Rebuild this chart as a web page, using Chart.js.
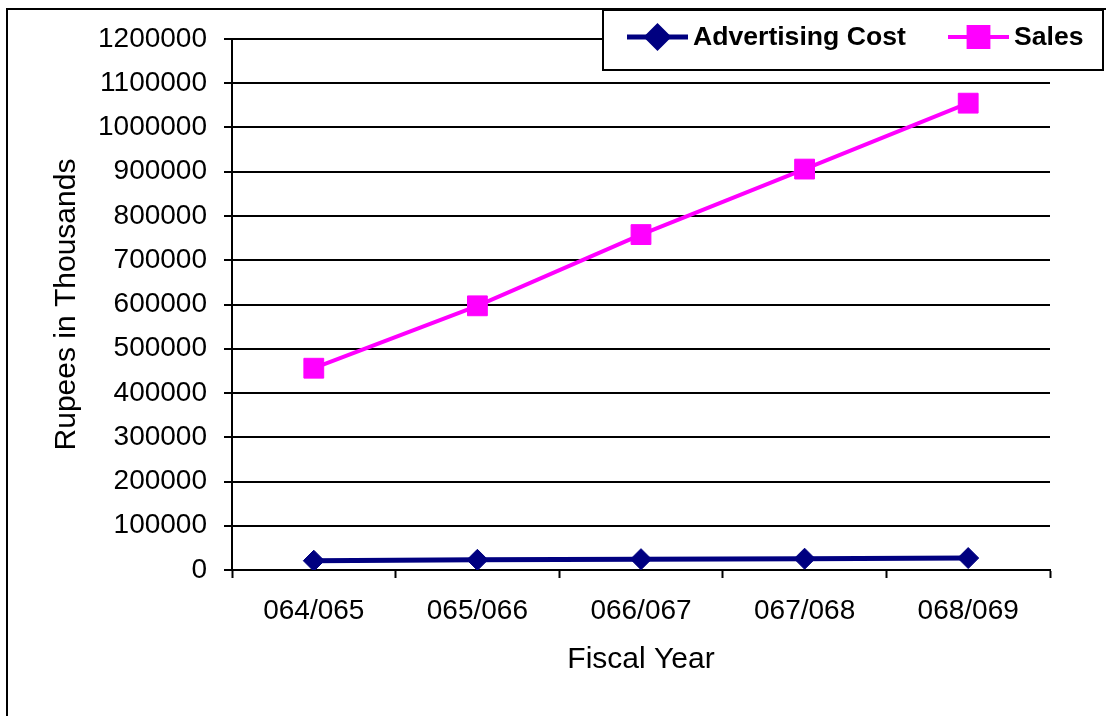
<!DOCTYPE html>
<html>
<head>
<meta charset="utf-8">
<title>Advertising Cost and Sales</title>
<script src="https://cdn.jsdelivr.net/npm/chart.js@4/dist/chart.umd.min.js"></script>
<style>
  html, body { margin: 0; padding: 0; background: #ffffff; }
  #wrap { width: 1106px; height: 716px; position: relative; }
</style>
</head>
<body>
<div id="wrap"><canvas id="chart"></canvas></div>
<script>
// Fiscal years and the two series (Rupees in thousands)
const fiscalYears = ['064/065', '065/066', '066/067', '067/068', '068/069'];
const advertisingCost = [21000, 23000, 24500, 25500, 27000];
const sales = [456000, 597000, 758000, 906000, 1055000];
const seriesNames = ['Advertising Cost', 'Sales'];
const yTickMax = 1200000;
const yTickStep = 100000;

const FONT = 'Arial, "Liberation Sans", Helvetica, sans-serif';

// White frame edge on the left and top of the figure
const framePlugin = {
  id: 'frame',
  beforeDraw(chart) {
    const ctx = chart.ctx;
    ctx.save();
    ctx.fillStyle = '#ffffff';
    ctx.fillRect(0, 0, chart.width, chart.height);
    ctx.strokeStyle = '#000000';
    ctx.lineWidth = 2;
    ctx.strokeRect(7, 9, chart.width + 20, chart.height + 20);
    ctx.restore();
  }
};

// Boxed legend floating at the top right, overlapping the plot
const boxLegendPlugin = {
  id: 'boxLegend',
  afterDraw(chart) {
    const ctx = chart.ctx;
    const right = chart.width - 3;
    const box = { left: right - 500, top: 10, width: 500, height: 60 };
    ctx.save();
    ctx.fillStyle = '#ffffff';
    ctx.fillRect(box.left, box.top, box.width, box.height);
    ctx.strokeStyle = '#000000';
    ctx.lineWidth = 2;
    ctx.strokeRect(box.left, box.top, box.width, box.height);

    const cy = box.top + 27;
    const items = [
      { ds: chart.data.datasets[0], x0: box.left + 24 },
      { ds: chart.data.datasets[1], x0: box.left + 345 }
    ];
    ctx.font = 'bold 26.6px ' + FONT;
    ctx.textBaseline = 'middle';
    ctx.textAlign = 'left';
    items.forEach(({ ds, x0 }) => {
      ctx.strokeStyle = ds.borderColor;
      ctx.lineWidth = ds.borderWidth;
      ctx.beginPath();
      ctx.moveTo(x0, cy);
      ctx.lineTo(x0 + 61, cy);
      ctx.stroke();
      ctx.fillStyle = ds.pointBackgroundColor;
      ctx.strokeStyle = ds.pointBorderColor;
      Chart.helpers.drawPoint(ctx, {
        pointStyle: ds.pointStyle,
        radius: ds.pointRadius,
        rotation: 0,
        borderWidth: 1
      }, x0 + 30.5, cy);
      ctx.fillStyle = '#000000';
      ctx.fillText(ds.label, x0 + 66, cy + 1);
    });
    ctx.restore();
  }
};

new Chart(document.getElementById('chart'), {
  type: 'line',
  data: {
    labels: fiscalYears,
    datasets: [
      {
        label: seriesNames[0],
        data: advertisingCost,
        borderColor: '#000080',
        backgroundColor: '#000080',
        borderWidth: 5,
        pointStyle: 'rectRot',
        pointRadius: 10.5,
        pointHoverRadius: 10.5,
        pointBackgroundColor: '#000080',
        pointBorderColor: '#000080',
        pointBorderWidth: 1,
        tension: 0
      },
      {
        label: seriesNames[1],
        data: sales,
        borderColor: '#ff00ff',
        backgroundColor: '#ff00ff',
        borderWidth: 4,
        pointStyle: 'rect',
        pointRadius: 14,
        pointHoverRadius: 14,
        pointBackgroundColor: '#ff00ff',
        pointBorderColor: '#ff00ff',
        pointBorderWidth: 1,
        tension: 0
      }
    ]
  },
  options: {
    responsive: true,
    maintainAspectRatio: false,
    animation: false,
    events: [],
    layout: { padding: { left: 8, top: 39, right: 56, bottom: 20 } },
    plugins: {
      legend: { display: false },
      tooltip: { enabled: false }
    },
    scales: {
      x: {
        offset: true,
        afterFit(scale) { scale.height = 126; },
        grid: {
          offset: true,
          drawOnChartArea: false,
          drawTicks: true,
          tickLength: 8,
          tickWidth: 2,
          tickColor: '#000000'
        },
        border: { display: true, color: '#000000', width: 2 },
        ticks: {
          color: '#000000',
          padding: 16,
          font: { family: FONT, size: 28 },
          maxRotation: 0
        },
        title: {
          display: true,
          text: 'Fiscal Year',
          color: '#000000',
          font: { family: FONT, size: 30 },
          padding: { top: 0, bottom: 18 }
        }
      },
      y: {
        min: 0,
        max: yTickMax,
        afterFit(scale) { scale.width = 224; },
        grid: {
          color: '#000000',
          lineWidth: 2,
          drawTicks: true,
          tickLength: 8,
          tickWidth: 2,
          tickColor: '#000000'
        },
        border: { display: true, color: '#000000', width: 2 },
        ticks: {
          stepSize: yTickStep,
          color: '#000000',
          padding: 17,
          font: { family: FONT, size: 28 },
          callback: (v) => String(v)
        },
        title: {
          display: true,
          text: 'Rupees in Thousands',
          color: '#000000',
          font: { family: FONT, size: 30 },
          padding: { top: 41, bottom: 0 }
        }
      }
    }
  },
  plugins: [framePlugin, boxLegendPlugin]
});
</script>
</body>
</html>
